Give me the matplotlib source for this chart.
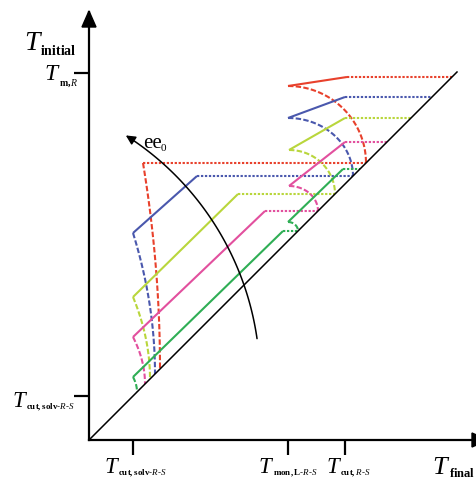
import numpy as np
import matplotlib
matplotlib.use("Agg")
import matplotlib.pyplot as plt
from matplotlib.path import Path
from matplotlib.patches import FancyArrowPatch, Polygon

plt.rcParams['mathtext.fontset'] = 'custom'
plt.rcParams['mathtext.rm'] = 'Liberation Serif'
plt.rcParams['mathtext.it'] = 'Liberation Serif:italic'
plt.rcParams['mathtext.bf'] = 'Liberation Serif:bold'

# ---------------- data (schematic, arbitrary temperature units) ----------------
series_colors = ['#e8412c', '#4a58ad', '#b9d63c', '#e2509e', '#2fae55']
# upper family: solid segment start (left corner) and end
up_x0 = [199, 199, 200, 200, 199]
up_y0 = [354, 322, 290, 254, 218]
up_x1 = [258, 256, 256, 256, 254]
up_y1 = [363, 343, 322, 298, 271]
# point on diagonal where upper dashed curve ends / lower dotted level
diag_mid = [277, 264, 246, 229, 209]
# lower family: left corner, end of solid segment, end of dashed curve on diagonal
lo_x0 = [54, 44, 44, 44, 44]
lo_y0 = [277, 207, 143, 103, 63]
lo_x1 = [54, 108, 149, 176, 194]
lo_end = [71, 66, 61, 56, 48]

x_ticks = [44, 199, 256]
y_ticks = [44, 367]
diag_max = 368

# ee0 arrow: arc (center, radius, start/end angle in degrees)
arc_center = (-119, 60)
arc_radius = 290
arc_angles = (8.2, 57.5)

# ---------------- figure ----------------
fig = plt.figure(figsize=(4.76, 4.79), dpi=100)
ax = fig.add_axes([89 / 476, 39 / 479, 387 / 476, 428 / 479])
ax.set_xlim(0, 387)
ax.set_ylim(0, 428)
for s in ['top', 'right']:
    ax.spines[s].set_visible(False)
for s in ['left', 'bottom']:
    ax.spines[s].set_linewidth(1.6)
ax.set_xticks(x_ticks)
ax.set_yticks(y_ticks)
ax.set_xticklabels([])
ax.set_yticklabels([])
ax.tick_params(direction='out', length=11, width=1.6, color='black')

# arrow heads on axes
ax.add_patch(Polygon([(-7, 413), (7, 413), (0, 429)], closed=True, color='black', clip_on=False))
ax.add_patch(Polygon([(383, -7), (383, 7), (399, 0)], closed=True, color='black', clip_on=False))

# diagonal
ax.plot([0, diag_max], [0, diag_max], color='black', lw=1.1, zorder=3)

dot = (0, (1.1, 0.8))
dash = (0, (2.6, 1.1))
lw = 1.5
t = np.linspace(0, np.pi / 2, 60)
u = np.linspace(0, 1, 60)

for i, c in enumerate(series_colors):
    m = diag_mid[i]
    # upper solid
    ax.plot([up_x0[i], up_x1[i]], [up_y0[i], up_y1[i]], color=c, lw=lw, solid_capstyle='butt')
    # upper dotted horizontal to diagonal
    ax.plot([up_x1[i], up_y1[i]], [up_y1[i], up_y1[i]], color=c, lw=lw, ls=dot)
    # upper dashed arc (quarter ellipse) to diagonal
    rx, ry = m - up_x0[i], up_y0[i] - m
    ax.plot(up_x0[i] + rx * np.sin(t), m + ry * np.cos(t), color=c, lw=lw, ls=dash)
    # lower dotted horizontal from diagonal
    ax.plot([lo_x1[i], m], [m, m], color=c, lw=lw, ls=dot)
    # lower solid
    if lo_x1[i] != lo_x0[i]:
        ax.plot([lo_x0[i], lo_x1[i]], [lo_y0[i], m], color=c, lw=lw, solid_capstyle='butt')
    # lower dashed curve down to diagonal
    e = lo_end[i]
    rx, ry = e - lo_x0[i], lo_y0[i] - e
    ax.plot(lo_x0[i] + rx * (1 - (1 - u) ** 2), lo_y0[i] - ry * u, color=c, lw=lw, ls=dash)

# ee0 curved arrow
ang = np.radians(np.linspace(arc_angles[0], arc_angles[1], 80))
verts = np.column_stack([arc_center[0] + arc_radius * np.cos(ang),
                         arc_center[1] + arc_radius * np.sin(ang)])
codes = [Path.MOVETO] + [Path.LINETO] * (len(verts) - 1)
arrow = FancyArrowPatch(path=Path(verts, codes), arrowstyle='-|>', mutation_scale=14,
                        color='black', lw=1.1, zorder=4)
ax.add_patch(arrow)
ax.text(54, 292, 'ee', fontsize=15, family='Liberation Serif', ha='left', va='baseline')
ax.text(71.5, 289, '0', fontsize=8, family='Liberation Serif', ha='left', va='baseline')


def tlabel(x, y, sub, sx, sy, tsize=17, ssize=7):
    ax.text(x, y, 'T', fontsize=tsize, family='Liberation Serif', style='italic',
            ha='left', va='baseline', clip_on=False)
    ax.text(sx, sy, sub, fontsize=ssize, family='Liberation Serif',
            ha='left', va='baseline', clip_on=False)


tlabel(-65, 390, r'$\mathbf{initial}$', -49, 385, tsize=20, ssize=10)
tlabel(-45, 360, r'$\mathbf{m,}R$', -30, 354, tsize=17, ssize=7)
tlabel(-77, 33, r'$\mathbf{cut,solv}\text{-}R\text{-}S$', -63, 31, tsize=16.5, ssize=6.5)
tlabel(15, -33, r'$\mathbf{cut,solv}\text{-}R\text{-}S$', 29, -35, tsize=16.5, ssize=6.5)
tlabel(170, -33, r'$\mathbf{mon,L}\text{-}R\text{-}S$', 184, -35, tsize=16.5, ssize=6.5)
tlabel(237, -33, r'$\mathbf{cut,}R\text{-}S$', 251, -35, tsize=16.5, ssize=6.5)
tlabel(343, -34, r'$\mathbf{final}$', 360, -37, tsize=19, ssize=9)

fig.savefig('out.png', dpi=100)
